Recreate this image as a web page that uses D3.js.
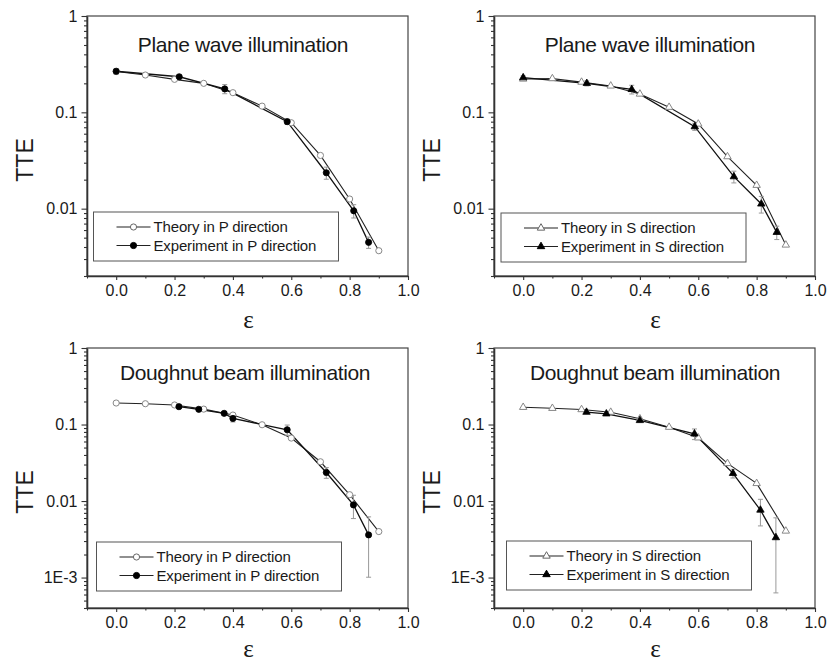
<!DOCTYPE html>
<html>
<head>
<meta charset="utf-8">
<script src="https://cdn.jsdelivr.net/npm/d3@7"></script>
<style>
  html, body { margin: 0; padding: 0; background: #fff; }
  svg { display: block; }
  text { font-family: "Liberation Sans", Arial, sans-serif; fill: #1a1a1a; }
</style>
</head>
<body>
<svg id="chart" width="831" height="664"></svg>
<script>
// ---- data ----
const theoryX = [0.0, 0.1, 0.2, 0.3, 0.4, 0.5, 0.6, 0.7, 0.8, 0.9];

// plane wave, P direction
const planeTheoryP = [0.265, 0.244, 0.220, 0.200, 0.160, 0.116, 0.078, 0.0357, 0.0126, 0.00366];
const planeExpPX   = [0.0, 0.216, 0.372, 0.586, 0.720, 0.814, 0.865];
const planeExpP    = [0.267, 0.234, 0.175, 0.080, 0.0236, 0.0095, 0.00447];
const planeExpPErr = [0.018, 0.010, 0.019, 0.005, 0.0034, 0.0015, 0.0006];

// plane wave, S direction
const planeTheoryS = [0.222, 0.224, 0.206, 0.188, 0.155, 0.113, 0.0757, 0.0347, 0.0175, 0.0042];
const planeExpSX   = [0.0, 0.218, 0.372, 0.588, 0.722, 0.816, 0.869];
const planeExpS    = [0.229, 0.200, 0.173, 0.071, 0.0215, 0.0112, 0.00568];
const planeExpSErr = [0.010, 0.012, 0.018, 0.006, 0.003, 0.0022, 0.0009];

// doughnut beam, P direction
const donutTheoryP = [0.191, 0.187, 0.180, 0.159, 0.133, 0.0993, 0.0665, 0.0326, 0.0121, 0.00399];
const donutExpPX   = [0.215, 0.283, 0.370, 0.400, 0.586, 0.720, 0.813, 0.865];
const donutExpP    = [0.171, 0.158, 0.140, 0.120, 0.0854, 0.0236, 0.0089, 0.00361];
const donutExpPErr = [0.008, 0.008, 0.008, 0.012, 0.013, 0.0038, 0.003, 0.0026];

// doughnut beam, S direction
const donutTheoryS = [0.168, 0.163, 0.157, 0.145, 0.119, 0.0923, 0.067, 0.031, 0.0170, 0.00406];
const donutExpSX   = [0.217, 0.285, 0.400, 0.587, 0.719, 0.813, 0.866];
const donutExpS    = [0.145, 0.138, 0.113, 0.0755, 0.0230, 0.00763, 0.00333];
const donutExpSErr = [0.006, 0.007, 0.006, 0.012, 0.003, 0.0029, 0.0027];

// axes
const xDomain = [-0.1, 1.0];
const xMajorTicks = [0.0, 0.2, 0.4, 0.6, 0.8, 1.0];
const xMinorTicks = [-0.1, 0.1, 0.3, 0.5, 0.7, 0.9];
const xTickLabels = ["0.0", "0.2", "0.4", "0.6", "0.8", "1.0"];

const yDomainPlane = [0.002, 1];
const yTicksPlane = [1, 0.1, 0.01];
const yLabelsPlane = ["1", "0.1", "0.01"];

const yDomainDonut = [0.0004, 1];
const yTicksDonut = [1, 0.1, 0.01, 0.001];
const yLabelsDonut = ["1", "0.1", "0.01", "1E-3"];

const titles = ["Plane wave illumination", "Plane wave illumination",
                "Doughnut beam illumination", "Doughnut beam illumination"];
const theoryNames = ["Theory in P direction", "Theory in S direction",
                     "Theory in P direction", "Theory in S direction"];
const expNames = ["Experiment in P direction", "Experiment in S direction",
                  "Experiment in P direction", "Experiment in S direction"];

// ---- layout ----
const W = 321, H = 260;
const layout = [
  { left: 87,  top: 16,  legend: [6.5, 196],  titleDx: 156, titleDy: 36, epsDy: 52 },
  { left: 494, top: 16,  legend: [7, 197],    titleDx: 156, titleDy: 36, epsDy: 52 },
  { left: 87,  top: 348, legend: [9.5, 194],  titleDx: 158, titleDy: 32, epsDy: 49 },
  { left: 494, top: 348, legend: [12.5, 193], titleDx: 161, titleDy: 32, epsDy: 49 }
];

const panels = [
  { theory: planeTheoryP, expX: planeExpPX, exp: planeExpP, err: planeExpPErr, symbol: d3.symbolCircle,
    yDomain: yDomainPlane, yTicks: yTicksPlane, yLabels: yLabelsPlane },
  { theory: planeTheoryS, expX: planeExpSX, exp: planeExpS, err: planeExpSErr, symbol: d3.symbolTriangle,
    yDomain: yDomainPlane, yTicks: yTicksPlane, yLabels: yLabelsPlane },
  { theory: donutTheoryP, expX: donutExpPX, exp: donutExpP, err: donutExpPErr, symbol: d3.symbolCircle,
    yDomain: yDomainDonut, yTicks: yTicksDonut, yLabels: yLabelsDonut },
  { theory: donutTheoryS, expX: donutExpSX, exp: donutExpS, err: donutExpSErr, symbol: d3.symbolTriangle,
    yDomain: yDomainDonut, yTicks: yTicksDonut, yLabels: yLabelsDonut }
];

const svg = d3.select("#chart");
svg.append("rect").attr("width", 831).attr("height", 664).attr("fill", "#fff");

function minorLogTicks(domain) {
  const out = [];
  const lo = Math.floor(Math.log10(domain[0])), hi = Math.ceil(Math.log10(domain[1]));
  for (let e = lo; e < hi; e++) {
    for (let m = 2; m <= 9; m++) {
      const v = m * Math.pow(10, e);
      if (v >= domain[0] * 0.999 && v <= domain[1]) out.push(v);
    }
  }
  return out;
}

panels.forEach((p, i) => {
  const L = layout[i];
  const g = svg.append("g").attr("transform", `translate(${L.left},${L.top})`);

  const x = d3.scaleLinear().domain(xDomain).range([0, W]);
  const y = d3.scaleLog().domain(p.yDomain).range([H, 0]);

  // frame
  g.append("rect").attr("width", W).attr("height", H)
    .attr("fill", "none").attr("stroke", "#444").attr("stroke-width", 1.2);

  // x axis
  const xMajor = d3.axisBottom(x).tickValues(xMajorTicks)
    .tickFormat((d, k) => xTickLabels[k]).tickSize(4).tickSizeOuter(0).tickPadding(4);
  const xa = g.append("g").attr("transform", `translate(0,${H})`).call(xMajor);
  const xMinor = d3.axisBottom(x).tickValues(xMinorTicks).tickFormat("").tickSize(2.5).tickSizeOuter(0);
  g.append("g").attr("transform", `translate(0,${H})`).call(xMinor).select(".domain").remove();
  xa.selectAll("text").attr("font-size", 16).attr("dy", null).attr("y", 20)
    .style("font-family", "Liberation Sans, Arial, sans-serif").attr("fill", "#1a1a1a");

  // y axis
  const yMajor = d3.axisLeft(y).tickValues(p.yTicks)
    .tickFormat((d, k) => p.yLabels[k]).tickSize(5.5).tickSizeOuter(0).tickPadding(4);
  const ya = g.append("g").call(yMajor);
  const yMinor = d3.axisLeft(y).tickValues(minorLogTicks(p.yDomain)).tickFormat("").tickSize(3).tickSizeOuter(0);
  g.append("g").call(yMinor).select(".domain").remove();
  ya.selectAll("text").attr("font-size", 16)
    .style("font-family", "Liberation Sans, Arial, sans-serif").attr("fill", "#1a1a1a");

  g.selectAll(".domain").attr("stroke", "#333").attr("stroke-width", 1.6);
  g.selectAll(".tick line").attr("stroke", "#333").attr("stroke-width", 1.1);

  // axis titles
  g.append("text").text("TTE")
    .attr("transform", `translate(-54,${H / 2 + 14}) rotate(-90)`)
    .attr("text-anchor", "middle").attr("font-size", 23);
  g.append("text").text("ε")
    .attr("x", W / 2 + 1).attr("y", H + L.epsDy)
    .attr("text-anchor", "middle").attr("font-size", 25)
    .style("font-family", "Liberation Serif, Times New Roman, serif");

  // panel title
  g.append("text").text(titles[i])
    .attr("x", L.titleDx).attr("y", L.titleDy)
    .attr("text-anchor", "middle").attr("font-size", 21)
    .attr("letter-spacing", "-0.4px");

  const theoryPts = theoryX.map((v, k) => ({ x: v, y: p.theory[k] }));
  const expPts = p.expX.map((v, k) => ({ x: v, y: p.exp[k], e: p.err[k] }));

  const line = d3.line().x(d => x(d.x)).y(d => y(d.y));

  g.append("path").datum(theoryPts).attr("d", line)
    .attr("fill", "none").attr("stroke", "#222").attr("stroke-width", 1.1);
  g.append("path").datum(expPts).attr("d", line)
    .attr("fill", "none").attr("stroke", "#111").attr("stroke-width", 1.3);

  // error bars
  const eb = g.append("g").attr("stroke", "#999").attr("stroke-width", 1).attr("fill", "none");
  expPts.forEach(d => {
    const y1 = y(d.y + d.e), y2 = y(Math.max(d.y - d.e, p.yDomain[0]));
    const cx = x(d.x);
    eb.append("line").attr("x1", cx).attr("x2", cx).attr("y1", y1).attr("y2", y2);
    eb.append("line").attr("x1", cx - 2.5).attr("x2", cx + 2.5).attr("y1", y1).attr("y2", y1);
    eb.append("line").attr("x1", cx - 2.5).attr("x2", cx + 2.5).attr("y1", y2).attr("y2", y2);
  });

  const symSize = p.symbol === d3.symbolCircle ? 30 : 24;
  const sym = d3.symbol().type(p.symbol).size(symSize);

  g.selectAll(".theory-pt").data(theoryPts).join("path")
    .attr("class", "theory-pt")
    .attr("transform", d => `translate(${x(d.x)},${y(d.y)})`)
    .attr("d", sym).attr("fill", "#fff").attr("stroke", "#888").attr("stroke-width", 1);

  g.selectAll(".exp-pt").data(expPts).join("path")
    .attr("class", "exp-pt")
    .attr("transform", d => `translate(${x(d.x)},${y(d.y)})`)
    .attr("d", sym).attr("fill", "#000").attr("stroke", "#000").attr("stroke-width", 0.8);

  // legend
  const lg = g.append("g").attr("transform", `translate(${L.legend[0]},${L.legend[1]})`);
  lg.append("rect").attr("width", 245).attr("height", 49)
    .attr("fill", "#fff").attr("stroke", "#555").attr("stroke-width", 1);
  [[theoryNames[i], "#fff", "#666", 15], [expNames[i], "#000", "#000", 33.5]].forEach(([name, fill, stroke, ry]) => {
    lg.append("line").attr("x1", 23).attr("x2", 57).attr("y1", ry).attr("y2", ry)
      .attr("stroke", "#222").attr("stroke-width", 1.1);
    lg.append("path").attr("transform", `translate(40,${ry})`).attr("d", sym)
      .attr("fill", fill).attr("stroke", stroke).attr("stroke-width", 1);
    lg.append("text").text(name).attr("x", 60).attr("y", ry).attr("dy", "0.36em")
      .attr("font-size", 15).attr("letter-spacing", "-0.15px");
  });
});
</script>
</body>
</html>
